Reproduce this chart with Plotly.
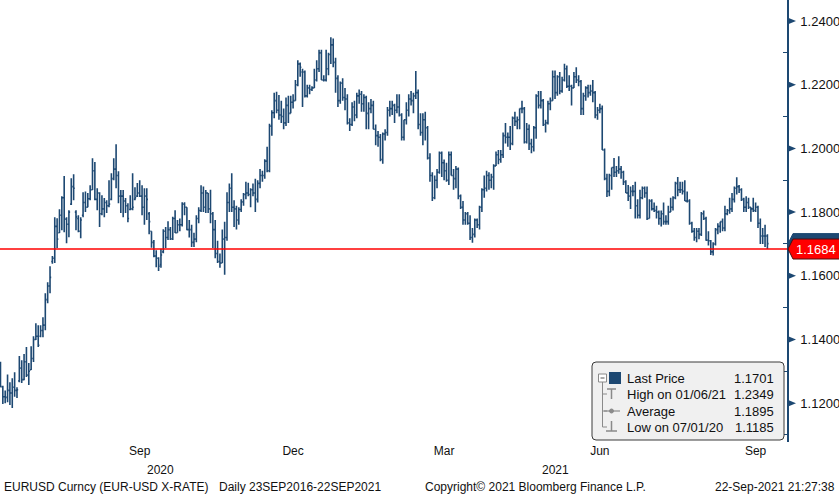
import plotly.graph_objects as go
import pandas as pd

# ---------------- data ----------------
start_date = "2020-06-24"
end_date = "2021-09-22"

opens = [
    1.1310, 1.1252, 1.1220, 1.1218, 1.1240,
    1.1232, 1.1250, 1.1240, 1.1270, 1.1310, 1.1274, 1.1330, 1.1288, 1.1305, 1.1340, 1.1400, 1.1410, 1.1410, 1.1428, 1.1445, 1.1525, 1.1568, 1.1645, 1.1655, 1.1755, 1.1735, 1.1790, 1.1845,
    1.1778, 1.1762, 1.1825, 1.1880, 1.1800, 1.1780, 1.1740, 1.1790, 1.1830, 1.1815, 1.1842, 1.1870, 1.1930, 1.1840, 1.1860, 1.1795, 1.1810, 1.1830, 1.1820, 1.1840, 1.1905,
    1.1935, 1.1915, 1.1850, 1.1850, 1.1835, 1.1820, 1.1808, 1.1810, 1.1840, 1.1850, 1.1860, 1.1850, 1.1815, 1.1850, 1.1795, 1.1740, 1.1705, 1.1662, 1.1655, 1.1635, 1.1675, 1.1740,
    1.1720, 1.1745, 1.1716, 1.1780, 1.1735, 1.1760, 1.1760, 1.1825, 1.1815, 1.1745, 1.1745, 1.1705, 1.1715, 1.1780, 1.1805, 1.1860, 1.1815, 1.1860, 1.1810, 1.1795, 1.1745, 1.1670,
    1.1645, 1.1640, 1.1715, 1.1720, 1.1830, 1.1875, 1.1815, 1.1810, 1.1775, 1.1808, 1.1832, 1.1855, 1.1860, 1.1855, 1.1870, 1.1860, 1.1840, 1.1890, 1.1915, 1.1915, 1.1960,
    1.1930, 1.2070, 1.2112, 1.2150, 1.2120, 1.2105, 1.2100, 1.2080, 1.2135, 1.2110, 1.2145, 1.2150, 1.2200, 1.2265, 1.2240, 1.2240, 1.2165, 1.2190, 1.2185, 1.2190, 1.2215, 1.2250, 1.2300,
    1.2215, 1.2215, 1.2250, 1.2295, 1.2325, 1.2270, 1.2220, 1.2150, 1.2205, 1.2160, 1.2155, 1.2080, 1.2075, 1.2130, 1.2105, 1.2165, 1.2170, 1.2140, 1.2160, 1.2110, 1.2125,
    1.2135, 1.2060, 1.2040, 1.2035, 1.1965, 1.2045, 1.2050, 1.2120, 1.2125, 1.2135, 1.2120, 1.2130, 1.2105, 1.2035, 1.2090, 1.2120, 1.2155, 1.2150, 1.2165, 1.2175,
    1.2075, 1.2050, 1.2090, 1.2065, 1.1970, 1.1915, 1.1845, 1.1900, 1.1925, 1.1985, 1.1955, 1.1930, 1.1900, 1.1980, 1.1915, 1.1905, 1.1935, 1.1850, 1.1815, 1.1775, 1.1795, 1.1765, 1.1720,
    1.1730, 1.1775, 1.1760, 1.1815, 1.1870, 1.1875, 1.1915, 1.1900, 1.1910, 1.1945, 1.1980, 1.1965, 1.1980, 1.2040, 1.2035, 1.2035, 1.2015, 1.2095, 1.2085, 1.2090, 1.2125, 1.2125,
    1.2020, 1.2060, 1.2015, 1.2005, 1.2065, 1.2165, 1.2135, 1.2150, 1.2075, 1.2080, 1.2140, 1.2150, 1.2225, 1.2175, 1.2225, 1.2180, 1.2215, 1.2250, 1.2195, 1.2195, 1.2190,
    1.2225, 1.2215, 1.2210, 1.2125, 1.2165, 1.2190, 1.2175, 1.2180, 1.2175, 1.2105, 1.2120, 1.2125, 1.1995, 1.1905, 1.1865, 1.1915, 1.1940, 1.1925, 1.1930, 1.1935, 1.1925, 1.1895,
    1.1860, 1.1850, 1.1865, 1.1865, 1.1820, 1.1790, 1.1845, 1.1875, 1.1860, 1.1780, 1.1835, 1.1810, 1.1805, 1.1800, 1.1780, 1.1795, 1.1770, 1.1770, 1.1800, 1.1815, 1.1845, 1.1890,
    1.1870, 1.1870, 1.1865, 1.1835, 1.1835, 1.1765, 1.1740, 1.1720, 1.1740, 1.1730, 1.1795, 1.1780, 1.1712, 1.1710, 1.1675, 1.1700, 1.1745, 1.1755, 1.1770, 1.1750, 1.1795, 1.1805,
    1.1810, 1.1840, 1.1875, 1.1880, 1.1870, 1.1840, 1.1815, 1.1830, 1.1815, 1.1810, 1.1805, 1.1815, 1.1765, 1.1725, 1.1725, 1.1725,
]

highs = [
    1.1330, 1.1255, 1.1240, 1.1290, 1.1266,
    1.1278, 1.1297, 1.1250, 1.1348, 1.1335, 1.1354, 1.1376, 1.1326, 1.1379, 1.1410, 1.1451, 1.1445, 1.1445, 1.1470, 1.1545, 1.1580, 1.1630, 1.1662, 1.1784, 1.1781, 1.1809, 1.1850, 1.1913,
    1.1784, 1.1806, 1.1906, 1.1919, 1.1806, 1.1790, 1.1784, 1.1862, 1.1865, 1.1860, 1.1884, 1.1969, 1.1957, 1.1875, 1.1862, 1.1853, 1.1844, 1.1837, 1.1900, 1.1922, 1.1969,
    1.2013, 1.1928, 1.1869, 1.1869, 1.1844, 1.1828, 1.1853, 1.1922, 1.1878, 1.1891, 1.1900, 1.1884, 1.1875, 1.1875, 1.1800, 1.1740, 1.1712, 1.1680, 1.1658, 1.1685, 1.1746, 1.1753,
    1.1771, 1.1753, 1.1785, 1.1806, 1.1775, 1.1780, 1.1831, 1.1831, 1.1815, 1.1775, 1.1760, 1.1735, 1.1790, 1.1815, 1.1884, 1.1880, 1.1869, 1.1860, 1.1870, 1.1800, 1.1775, 1.1710,
    1.1670, 1.1745, 1.1770, 1.1862, 1.1890, 1.1922, 1.1837, 1.1820, 1.1815, 1.1840, 1.1860, 1.1895, 1.1892, 1.1875, 1.1890, 1.1905, 1.1900, 1.1935, 1.1930, 1.1966, 1.2005,
    1.2077, 1.2120, 1.2175, 1.2178, 1.2168, 1.2150, 1.2125, 1.2160, 1.2165, 1.2165, 1.2170, 1.2215, 1.2277, 1.2270, 1.2250, 1.2245, 1.2200, 1.2200, 1.2195, 1.2250, 1.2277, 1.2310, 1.2310,
    1.2230, 1.2310, 1.2300, 1.2349, 1.2345, 1.2285, 1.2230, 1.2210, 1.2220, 1.2190, 1.2170, 1.2095, 1.2145, 1.2150, 1.2175, 1.2185, 1.2180, 1.2170, 1.2165, 1.2145, 1.2155,
    1.2150, 1.2075, 1.2055, 1.2045, 1.2050, 1.2060, 1.2130, 1.2150, 1.2150, 1.2140, 1.2170, 1.2170, 1.2110, 1.2090, 1.2145, 1.2170, 1.2180, 1.2175, 1.2243, 1.2185,
    1.2110, 1.2110, 1.2115, 1.2070, 1.1985, 1.1925, 1.1915, 1.1935, 1.1990, 1.1990, 1.1965, 1.1955, 1.1990, 1.1990, 1.1935, 1.1945, 1.1940, 1.1855, 1.1835, 1.1800, 1.1800, 1.1790, 1.1750,
    1.1780, 1.1780, 1.1820, 1.1875, 1.1915, 1.1930, 1.1925, 1.1920, 1.1950, 1.1990, 1.1995, 1.1995, 1.2050, 1.2080, 1.2050, 1.2070, 1.2100, 1.2115, 1.2100, 1.2125, 1.2150, 1.2130,
    1.2080, 1.2075, 1.2030, 1.2070, 1.2170, 1.2180, 1.2180, 1.2155, 1.2090, 1.2150, 1.2160, 1.2245, 1.2245, 1.2230, 1.2240, 1.2225, 1.2266, 1.2260, 1.2230, 1.2200, 1.2240,
    1.2255, 1.2230, 1.2215, 1.2175, 1.2195, 1.2200, 1.2200, 1.2215, 1.2180, 1.2130, 1.2140, 1.2135, 1.2000, 1.1920, 1.1920, 1.1940, 1.1970, 1.1945, 1.1975, 1.1945, 1.1930, 1.1900,
    1.1885, 1.1880, 1.1885, 1.1895, 1.1840, 1.1870, 1.1880, 1.1880, 1.1880, 1.1840, 1.1840, 1.1830, 1.1820, 1.1805, 1.1805, 1.1830, 1.1790, 1.1820, 1.1845, 1.1850, 1.1895, 1.1910,
    1.1895, 1.1895, 1.1900, 1.1865, 1.1840, 1.1770, 1.1750, 1.1750, 1.1750, 1.1800, 1.1805, 1.1785, 1.1740, 1.1712, 1.1705, 1.1750, 1.1765, 1.1770, 1.1780, 1.1820, 1.1810, 1.1845,
    1.1860, 1.1880, 1.1909, 1.1885, 1.1875, 1.1845, 1.1850, 1.1845, 1.1815, 1.1845, 1.1830, 1.1820, 1.1780, 1.1750, 1.1760, 1.1730,
]

lows = [
    1.1250, 1.1197, 1.1200, 1.1203, 1.1194,
    1.1185, 1.1220, 1.1216, 1.1266, 1.1263, 1.1272, 1.1282, 1.1257, 1.1304, 1.1329, 1.1398, 1.1376, 1.1407, 1.1407, 1.1429, 1.1514, 1.1545, 1.1638, 1.1640, 1.1687, 1.1734, 1.1743, 1.1737,
    1.1702, 1.1721, 1.1822, 1.1837, 1.1743, 1.1737, 1.1718, 1.1784, 1.1800, 1.1815, 1.1837, 1.1869, 1.1837, 1.1806, 1.1753, 1.1790, 1.1784, 1.1797, 1.1815, 1.1837, 1.1900,
    1.1875, 1.1828, 1.1797, 1.1784, 1.1797, 1.1768, 1.1806, 1.1806, 1.1837, 1.1847, 1.1847, 1.1790, 1.1760, 1.1775, 1.1730, 1.1688, 1.1658, 1.1627, 1.1615, 1.1625, 1.1671, 1.1687,
    1.1712, 1.1712, 1.1712, 1.1734, 1.1735, 1.1740, 1.1755, 1.1790, 1.1743, 1.1720, 1.1690, 1.1690, 1.1705, 1.1765, 1.1800, 1.1800, 1.1797, 1.1797, 1.1765, 1.1687, 1.1655, 1.1640,
    1.1625, 1.1640, 1.1603, 1.1710, 1.1800, 1.1800, 1.1753, 1.1745, 1.1760, 1.1800, 1.1820, 1.1840, 1.1850, 1.1815, 1.1850, 1.1800, 1.1830, 1.1875, 1.1895, 1.1905, 1.1925,
    1.1925, 1.2040, 1.2095, 1.2110, 1.2090, 1.2080, 1.2060, 1.2070, 1.2080, 1.2110, 1.2125, 1.2150, 1.2195, 1.2225, 1.2130, 1.2160, 1.2160, 1.2170, 1.2180, 1.2190, 1.2210, 1.2240, 1.2215,
    1.2210, 1.2210, 1.2230, 1.2265, 1.2255, 1.2175, 1.2130, 1.2140, 1.2150, 1.2120, 1.2075, 1.2055, 1.2070, 1.2085, 1.2095, 1.2140, 1.2115, 1.2115, 1.2060, 1.2060, 1.2110,
    1.2060, 1.2010, 1.2005, 1.1960, 1.1952, 1.2025, 1.2040, 1.2100, 1.2105, 1.2080, 1.2110, 1.2100, 1.2025, 1.2025, 1.2075, 1.2100, 1.2135, 1.2110, 1.2155, 1.2060,
    1.2040, 1.2010, 1.2025, 1.1965, 1.1895, 1.1835, 1.1840, 1.1875, 1.1920, 1.1910, 1.1900, 1.1895, 1.1885, 1.1915, 1.1870, 1.1875, 1.1840, 1.1810, 1.1760, 1.1760, 1.1760, 1.1712, 1.1704,
    1.1720, 1.1750, 1.1745, 1.1800, 1.1845, 1.1865, 1.1870, 1.1875, 1.1870, 1.1945, 1.1950, 1.1955, 1.1970, 1.2015, 1.2005, 1.1995, 1.2010, 1.2070, 1.2060, 1.2060, 1.2110, 1.2015,
    1.2015, 1.1995, 1.1985, 1.1990, 1.2030, 1.2125, 1.2125, 1.2070, 1.2050, 1.2075, 1.2120, 1.2150, 1.2155, 1.2165, 1.2170, 1.2175, 1.2210, 1.2190, 1.2180, 1.2135, 1.2190,
    1.2205, 1.2195, 1.2105, 1.2105, 1.2150, 1.2160, 1.2165, 1.2145, 1.2095, 1.2090, 1.2110, 1.1995, 1.1900, 1.1847, 1.1850, 1.1870, 1.1910, 1.1910, 1.1920, 1.1905, 1.1885, 1.1860,
    1.1835, 1.1810, 1.1850, 1.1780, 1.1780, 1.1780, 1.1840, 1.1845, 1.1775, 1.1780, 1.1805, 1.1800, 1.1780, 1.1760, 1.1755, 1.1760, 1.1760, 1.1760, 1.1800, 1.1805, 1.1840, 1.1850,
    1.1860, 1.1855, 1.1835, 1.1830, 1.1760, 1.1735, 1.1710, 1.1705, 1.1715, 1.1725, 1.1775, 1.1710, 1.1695, 1.1665, 1.1664, 1.1695, 1.1730, 1.1735, 1.1740, 1.1740, 1.1790, 1.1795,
    1.1800, 1.1830, 1.1855, 1.1860, 1.1835, 1.1800, 1.1800, 1.1810, 1.1770, 1.1800, 1.1800, 1.1750, 1.1700, 1.1700, 1.1690, 1.1684,
]

closes = [
    1.1252, 1.1220, 1.1218, 1.1240, 1.1232,
    1.1250, 1.1240, 1.1242, 1.1310, 1.1274, 1.1330, 1.1288, 1.1300, 1.1340, 1.1400, 1.1410, 1.1382, 1.1428, 1.1445, 1.1525, 1.1568, 1.1595, 1.1655, 1.1755, 1.1715, 1.1790, 1.1845, 1.1778,
    1.1762, 1.1800, 1.1880, 1.1875, 1.1785, 1.1740, 1.1775, 1.1830, 1.1815, 1.1842, 1.1870, 1.1930, 1.1840, 1.1860, 1.1795, 1.1810, 1.1830, 1.1820, 1.1825, 1.1905, 1.1935,
    1.1915, 1.1850, 1.1850, 1.1835, 1.1820, 1.1780, 1.1810, 1.1815, 1.1845, 1.1860, 1.1850, 1.1815, 1.1850, 1.1840, 1.1770, 1.1705, 1.1662, 1.1655, 1.1630, 1.1665, 1.1740, 1.1720,
    1.1745, 1.1716, 1.1780, 1.1735, 1.1760, 1.1760, 1.1825, 1.1815, 1.1745, 1.1745, 1.1705, 1.1715, 1.1780, 1.1805, 1.1860, 1.1815, 1.1860, 1.1810, 1.1795, 1.1745, 1.1670, 1.1645,
    1.1640, 1.1715, 1.1720, 1.1830, 1.1875, 1.1815, 1.1810, 1.1775, 1.1808, 1.1832, 1.1855, 1.1860, 1.1855, 1.1870, 1.1860, 1.1840, 1.1890, 1.1915, 1.1915, 1.1960, 1.1930,
    1.2070, 1.2112, 1.2150, 1.2120, 1.2105, 1.2100, 1.2080, 1.2135, 1.2110, 1.2145, 1.2150, 1.2200, 1.2265, 1.2255, 1.2240, 1.2165, 1.2190, 1.2185, 1.2190, 1.2215, 1.2250, 1.2300, 1.2215,
    1.2215, 1.2250, 1.2295, 1.2325, 1.2270, 1.2220, 1.2150, 1.2205, 1.2160, 1.2155, 1.2080, 1.2075, 1.2130, 1.2105, 1.2165, 1.2170, 1.2140, 1.2160, 1.2110, 1.2125, 1.2135,
    1.2060, 1.2040, 1.2035, 1.1965, 1.2045, 1.2050, 1.2120, 1.2125, 1.2135, 1.2120, 1.2130, 1.2105, 1.2035, 1.2090, 1.2120, 1.2155, 1.2150, 1.2165, 1.2175, 1.2075,
    1.2050, 1.2090, 1.2065, 1.1970, 1.1915, 1.1845, 1.1900, 1.1925, 1.1985, 1.1955, 1.1930, 1.1900, 1.1980, 1.1915, 1.1905, 1.1935, 1.1850, 1.1815, 1.1775, 1.1795, 1.1765, 1.1720, 1.1730,
    1.1775, 1.1760, 1.1815, 1.1870, 1.1875, 1.1915, 1.1900, 1.1910, 1.1945, 1.1980, 1.1965, 1.1980, 1.2040, 1.2035, 1.2035, 1.2015, 1.2095, 1.2085, 1.2090, 1.2125, 1.2125, 1.2020,
    1.2060, 1.2015, 1.2005, 1.2065, 1.2165, 1.2135, 1.2150, 1.2075, 1.2080, 1.2140, 1.2150, 1.2225, 1.2175, 1.2225, 1.2180, 1.2215, 1.2250, 1.2195, 1.2195, 1.2190, 1.2225,
    1.2215, 1.2210, 1.2125, 1.2165, 1.2190, 1.2175, 1.2180, 1.2175, 1.2105, 1.2120, 1.2125, 1.1995, 1.1905, 1.1865, 1.1915, 1.1940, 1.1925, 1.1930, 1.1935, 1.1925, 1.1895, 1.1860,
    1.1850, 1.1865, 1.1865, 1.1820, 1.1790, 1.1845, 1.1875, 1.1860, 1.1780, 1.1835, 1.1810, 1.1805, 1.1800, 1.1780, 1.1795, 1.1770, 1.1770, 1.1800, 1.1815, 1.1845, 1.1890, 1.1870,
    1.1870, 1.1865, 1.1835, 1.1835, 1.1765, 1.1740, 1.1720, 1.1740, 1.1730, 1.1795, 1.1780, 1.1712, 1.1710, 1.1675, 1.1700, 1.1745, 1.1755, 1.1770, 1.1750, 1.1795, 1.1805, 1.1810,
    1.1840, 1.1875, 1.1880, 1.1870, 1.1840, 1.1815, 1.1830, 1.1815, 1.1810, 1.1805, 1.1815, 1.1765, 1.1725, 1.1725, 1.1725, 1.1701,
]

month_label_dates = ["2020-09-15", "2020-12-15", "2021-03-15", "2021-06-15", "2021-09-15"]
month_labels = ["Sep", "Dec", "Mar", "Jun", "Sep"]
year_labels = [2020, 2021]

y_ticks = [1.12, 1.14, 1.16, 1.18, 1.20, 1.22, 1.24]
y_minor_ticks = [1.11, 1.13, 1.15, 1.17, 1.19, 1.21, 1.23]

last_price = 1.1701
marker_level = 1.1684

legend_labels = ["Last Price", "High on 01/06/21", "Average", "Low on 07/01/20"]
legend_values = ["1.1701", "1.2349", "1.1895", "1.1185"]

footer_left = "EURUSD Curncy (EUR-USD X-RATE)"
footer_daily = "Daily 23SEP2016-22SEP2021"
footer_copy = "Copyright\u00a9 2021 Bloomberg Finance L.P."
footer_time = "22-Sep-2021 21:27:38"

# ---------------- layout helpers ----------------
NAVY = "#1d4872"
GRAY = "#8a8a8a"
FONT = "Liberation Sans, Arial, sans-serif"
FIG_W, FIG_H = 839, 496
PLOT_W, PLOT_H = 787, 442
Y_RANGE = [1.1078, 1.2466]
UNIT_PER_PX = (Y_RANGE[1] - Y_RANGE[0]) / PLOT_H


def px(x):
    return x / PLOT_W


def py(y):
    return (PLOT_H - y) / PLOT_H


dates = pd.bdate_range(start_date, end_date)
n = min(len(dates), len(opens), len(highs), len(lows), len(closes))
dates = dates[:n]
x_idx = list(range(n))
x_range = [-0.2, n - 1 + 8.3]

fig = go.Figure(
    go.Ohlc(
        x=x_idx,
        open=opens[:n], high=highs[:n], low=lows[:n], close=closes[:n],
        increasing=dict(line=dict(color=NAVY, width=1.6)),
        decreasing=dict(line=dict(color=NAVY, width=1.6)),
        tickwidth=0.5,
        text=[d.strftime("%d-%b-%Y") for d in dates],
        hoverinfo="none",
        showlegend=False,
    )
)

tick_positions = [dates.get_loc(pd.Timestamp(d)) for d in month_label_dates]

shapes = []
annotations = []

# red horizontal level line
shapes.append(dict(type="line", xref="paper", yref="y", x0=0, x1=1,
                   y0=marker_level, y1=marker_level,
                   line=dict(color="#ff0000", width=1.5), layer="above"))

# triangle markers on the right axis
dy = 3.5 * UNIT_PER_PX
for v in y_ticks:
    shapes.append(dict(type="path", xref="paper", yref="y",
                       path=f"M {px(787.5)},{v + dy} L {px(796)},{v} L {px(787.5)},{v - dy} Z",
                       fillcolor=NAVY, line=dict(width=0)))

# price boxes on the right
h = 10.0 * UNIT_PER_PX
for level, col, edge in [(last_price, NAVY, NAVY), (marker_level, "#ff0000", "#4a1010")]:
    shapes.append(dict(type="path", xref="paper", yref="y",
                       path=(f"M {px(788)},{level} L {px(793)},{level + h} L {px(845)},{level + h} "
                             f"L {px(845)},{level - h} L {px(793)},{level - h} Z"),
                       fillcolor=col, line=dict(color=edge, width=1)))
annotations.append(dict(xref="paper", yref="y", x=px(816), y=marker_level,
                        text=f"{marker_level:.4f}", showarrow=False,
                        font=dict(family=FONT, size=13, color="white"),
                        xanchor="center", yanchor="middle"))

# legend box (rounded)
x0, x1, y0, y1, r = 592, 784, 362, 440, 4
pts = lambda a, b: f"{px(a)},{py(b)}"
box_path = (f"M {pts(x0 + r, y0)} L {pts(x1 - r, y0)} Q {pts(x1, y0)} {pts(x1, y0 + r)} "
            f"L {pts(x1, y1 - r)} Q {pts(x1, y1)} {pts(x1 - r, y1)} "
            f"L {pts(x0 + r, y1)} Q {pts(x0, y1)} {pts(x0, y1 - r)} "
            f"L {pts(x0, y0 + r)} Q {pts(x0, y0)} {pts(x0 + r, y0)} Z")
shapes.append(dict(type="path", xref="paper", yref="paper", path=box_path,
                   fillcolor="#f0f0f0", line=dict(color="#3a3a3a", width=1)))

row_y = [378, 394, 411, 427]


def pline(xa, ya, xb, yb, color=GRAY, width=1):
    shapes.append(dict(type="line", xref="paper", yref="paper",
                       x0=px(xa), y0=py(ya), x1=px(xb), y1=py(yb),
                       line=dict(color=color, width=width)))


# tree lines
pline(602.5, 382, 602.5, row_y[3])
for ry in row_y[1:]:
    pline(602.5, ry, 607, ry)
# collapse box
shapes.append(dict(type="rect", xref="paper", yref="paper",
                   x0=px(598.5), x1=px(606.5), y0=py(382), y1=py(374),
                   fillcolor="white", line=dict(color=GRAY, width=1)))
pline(600.5, 378, 604.5, 378, color="#555555")
# last price square
shapes.append(dict(type="rect", xref="paper", yref="paper",
                   x0=px(609), x1=px(621), y0=py(384), y1=py(372),
                   fillcolor=NAVY, line=dict(width=0)))
# high icon (T)
pline(607, 389, 616, 389, width=1.5)
pline(611.5, 389, 611.5, 399, width=1.5)
# average icon (-o-)
pline(604, row_y[2], 620, row_y[2], width=1.2)
shapes.append(dict(type="circle", xref="paper", yref="paper",
                   x0=px(609.5), x1=px(613.5), y0=py(row_y[2] + 2), y1=py(row_y[2] - 2),
                   fillcolor=GRAY, line=dict(color=GRAY, width=1)))
# low icon (inverted T)
pline(611.5, 421, 611.5, 431, width=1.5)
pline(606, 431, 617, 431, width=1.5)

for lab, val, ry in zip(legend_labels, legend_values, row_y):
    annotations.append(dict(xref="paper", yref="paper", x=px(625), y=py(ry), text=lab,
                            showarrow=False, xanchor="left", yanchor="middle",
                            font=dict(family=FONT, size=13, color="#111111")))
    annotations.append(dict(xref="paper", yref="paper", x=px(776), y=py(ry), text=val,
                            showarrow=False, xanchor="right", yanchor="middle",
                            font=dict(family=FONT, size=13, color="#111111")))

# year labels
years = [d.year for d in dates]
for yr in year_labels:
    idx = [i for i, y in enumerate(years) if y == yr]
    lo = idx[0] if idx[0] > 0 else x_range[0]
    hi = idx[-1] if idx[-1] < n - 1 else x_range[1]
    annotations.append(dict(xref="x", yref="paper", x=(lo + hi) / 2, y=py(470),
                            text=str(yr), showarrow=False, xanchor="center", yanchor="middle",
                            font=dict(family=FONT, size=12, color="#111111")))

# footer
foot_y = py(487)
for txt, xp, anc in [(footer_left, 2, "left"), (footer_daily, 217, "left"),
                     (footer_copy, 423, "left"), (footer_time, 837, "right")]:
    annotations.append(dict(xref="paper", yref="paper", x=px(xp), y=foot_y, text=txt,
                            showarrow=False, xanchor=anc, yanchor="middle",
                            font=dict(family=FONT, size=12, color="#111111")))

fig.update_layout(
    width=FIG_W, height=FIG_H, autosize=False,
    margin=dict(l=0, r=FIG_W - PLOT_W, t=0, b=FIG_H - PLOT_H, pad=0),
    paper_bgcolor="white", plot_bgcolor="white",
    showlegend=False, hovermode=False,
    shapes=shapes, annotations=annotations,
    xaxis=dict(
        range=x_range, showgrid=False, zeroline=False, showline=False,
        tickmode="array", tickvals=tick_positions, ticktext=month_labels,
        ticks="", tickfont=dict(family=FONT, size=12, color="#111111"),
        rangeslider=dict(visible=False), fixedrange=True,
    ),
    yaxis=dict(
        side="right", range=Y_RANGE, showgrid=False, zeroline=False,
        showline=True, linecolor=NAVY, linewidth=1.5,
        tickmode="array", tickvals=y_ticks, ticktext=[f"{v:.4f}" for v in y_ticks],
        ticks="outside", ticklen=9, tickcolor="rgba(0,0,0,0)",
        tickfont=dict(family=FONT, size=13, color="#111111"),
        minor=dict(tickmode="array", tickvals=y_minor_ticks, ticks="inside",
                   ticklen=4, tickcolor=NAVY, tickwidth=1, showgrid=False),
        fixedrange=True,
    ),
)

fig.write_html("out.html")
